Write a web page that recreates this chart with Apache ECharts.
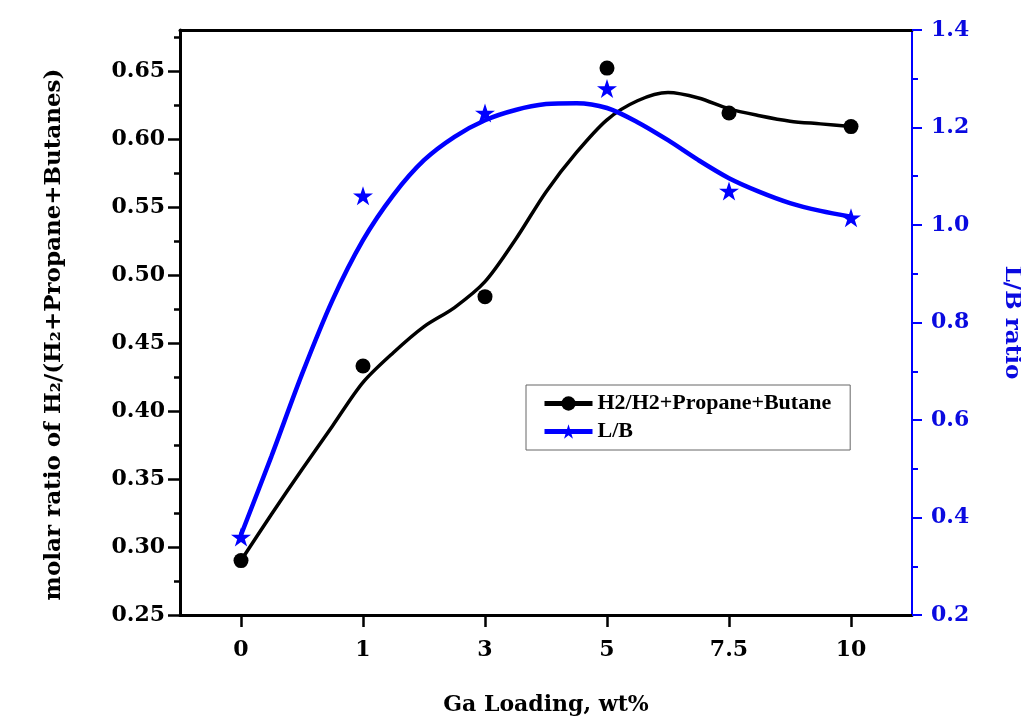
<!DOCTYPE html>
<html>
<head>
<meta charset="utf-8">
<script src="https://cdn.jsdelivr.net/npm/echarts@6/dist/echarts.min.js"></script>
<style>
html,body{margin:0;padding:0;background:#fff;overflow:hidden;}
#chart{width:1021px;height:727px;}
</style>
</head>
<body>
<div id="chart"></div>
<script>
// ---- data ----
var categories = ['0', '1', '3', '5', '7.5', '10'];
var h2Ratio = [0.290, 0.433, 0.484, 0.652, 0.619, 0.609];
var lbRatio = [0.36, 1.06, 1.23, 1.28, 1.07, 1.015];
// fitted curves, one value every quarter category step
var fitStep = 0.25;
var h2Fit = [0.290, 0.324, 0.357, 0.389, 0.421, 0.443, 0.462, 0.476, 0.495, 0.526, 0.561,
             0.590, 0.614, 0.628, 0.634, 0.630, 0.622, 0.617, 0.613, 0.611, 0.609];
var lbFit = [0.364, 0.526, 0.694, 0.846, 0.969, 1.062, 1.133, 1.181, 1.215, 1.236, 1.248,
             1.250, 1.240, 1.211, 1.174, 1.133, 1.096, 1.068, 1.045, 1.029, 1.017];
var leftMajor = [0.25, 0.30, 0.35, 0.40, 0.45, 0.50, 0.55, 0.60, 0.65];
var leftMinor = [0.275, 0.325, 0.375, 0.425, 0.475, 0.525, 0.575, 0.625, 0.675];
var h2Name = 'H2/H2+Propane+Butane';
var lbName = 'L/B';

var AXFONT = '"DejaVu Serif", "Liberation Serif", serif';
var LGFONT = '"Liberation Serif", "Times New Roman", serif';
var BLUE = '#0000ff';
var BLUE_TXT = '#0a0ae0';
var STAR = 'path://M50 0 L61.23 34.55 L97.55 34.55 L68.17 55.9 L79.39 90.45 L50 69.1 L20.61 90.45 L31.83 55.9 L2.45 34.55 L38.77 34.55 Z';

function toPairs(arr, step) { return arr.map(function (v, i) { return [i * step, v]; }); }
var catIdx = categories.map(function (c, i) { return i; });

var chart = echarts.init(document.getElementById('chart'), null, {renderer: 'canvas'});
chart.setOption({
  backgroundColor: '#ffffff',
  animation: false,
  grid: {left: 180, right: 109, top: 30, bottom: 112, containLabel: false, outerBoundsMode: 'none'},
  legend: {
    orient: 'vertical',
    left: 526, top: 385,
    padding: [6, 19, 6, 16],
    itemGap: 3,
    itemWidth: 48, itemHeight: 18,
    borderColor: '#666', borderWidth: 1,
    backgroundColor: '#fff',
    lineStyle: {width: 5},
    data: [h2Name, lbName],
    textStyle: {fontFamily: LGFONT, fontWeight: 'bold', fontSize: 22, color: '#000', lineHeight: 25}
  },
  xAxis: [{
    type: 'value', min: -0.5, max: 5.5, position: 'bottom',
    splitLine: {show: false},
    axisLine: {show: true, onZero: false, lineStyle: {color: '#000', width: 3}},
    axisTick: {show: true, inside: false, length: 12, lineStyle: {color: '#000', width: 2.5}, customValues: catIdx},
    axisLabel: {customValues: catIdx, margin: 24, fontFamily: AXFONT, fontWeight: 'bold', fontSize: 22, color: '#000',
      formatter: function (v) { return categories[Math.round(v)]; }},
    name: 'Ga Loading, wt%', nameLocation: 'middle', nameGap: 79,
    nameTextStyle: {fontFamily: AXFONT, fontWeight: 'bold', fontSize: 22, color: '#000'}
  }, {
    type: 'value', min: -0.5, max: 5.5, position: 'top',
    splitLine: {show: false},
    axisLine: {show: true, onZero: false, lineStyle: {color: '#000', width: 3}},
    axisTick: {show: false}, axisLabel: {show: false}
  }],
  yAxis: [{
    type: 'value', min: 0.25, max: 0.68, position: 'left',
    splitLine: {show: false},
    axisLine: {show: true, onZero: false, lineStyle: {color: '#000', width: 3}},
    axisTick: {show: true, length: 12, lineStyle: {color: '#000', width: 2.5}, customValues: leftMajor},
    axisLabel: {customValues: leftMajor, margin: 15, fontFamily: AXFONT, fontWeight: 'bold', fontSize: 22, color: '#000',
      formatter: function (v) { return v.toFixed(2); }},
    name: 'molar ratio of H\u2082/(H\u2082+Propane+Butanes)', nameLocation: 'middle', nameGap: 114, nameRotate: 90,
    nameTextStyle: {fontFamily: AXFONT, fontWeight: 'bold', fontSize: 23, color: '#000', padding: [0, 24, 0, 0]}
  }, {
    type: 'value', min: 0.2, max: 1.4, interval: 0.2, position: 'right',
    splitLine: {show: false},
    axisLine: {show: true, onZero: false, lineStyle: {color: BLUE, width: 2}},
    axisTick: {show: true, length: 10, lineStyle: {color: BLUE, width: 2}},
    minorTick: {show: true, splitNumber: 2, length: 6, lineStyle: {color: BLUE, width: 2}},
    axisLabel: {margin: 19, fontFamily: AXFONT, fontWeight: 'bold', fontSize: 22, color: BLUE_TXT,
      formatter: function (v) { return v.toFixed(1); }},
    name: 'L/B ratio', nameLocation: 'middle', nameGap: 88, nameRotate: -90,
    nameTextStyle: {fontFamily: AXFONT, fontWeight: 'bold', fontSize: 23, color: BLUE_TXT}
  }, {
    type: 'value', min: 0.25, max: 0.68, position: 'left',
    splitLine: {show: false},
    axisLine: {show: false, onZero: false},
    axisTick: {show: true, length: 6, lineStyle: {color: '#000', width: 2.5}, customValues: leftMinor},
    axisLabel: {show: false}
  }],
  series: [{
    name: h2Name, type: 'line', xAxisIndex: 0, yAxisIndex: 0,
    data: toPairs(h2Fit, fitStep), smooth: 0.3, showSymbol: false, symbol: 'circle', symbolSize: 15,
    lineStyle: {color: '#000', width: 3.5}, itemStyle: {color: '#000'}, z: 3
  }, {
    name: lbName, type: 'line', xAxisIndex: 0, yAxisIndex: 1,
    data: toPairs(lbFit, fitStep), smooth: 0.3, showSymbol: false, symbol: STAR, symbolSize: 22,
    lineStyle: {color: BLUE, width: 4.5}, itemStyle: {color: BLUE}, z: 3
  }, {
    name: h2Name, type: 'scatter', xAxisIndex: 0, yAxisIndex: 0,
    data: h2Ratio.map(function (v, i) { return [i, v]; }),
    symbol: 'circle', symbolSize: 15, itemStyle: {color: '#000', opacity: 1}, z: 4
  }, {
    name: lbName, type: 'scatter', xAxisIndex: 0, yAxisIndex: 1,
    data: lbRatio.map(function (v, i) { return [i, v]; }),
    symbol: STAR, symbolSize: [20, 19], itemStyle: {color: BLUE, opacity: 1}, z: 4
  }]
});
</script>
</body>
</html>
